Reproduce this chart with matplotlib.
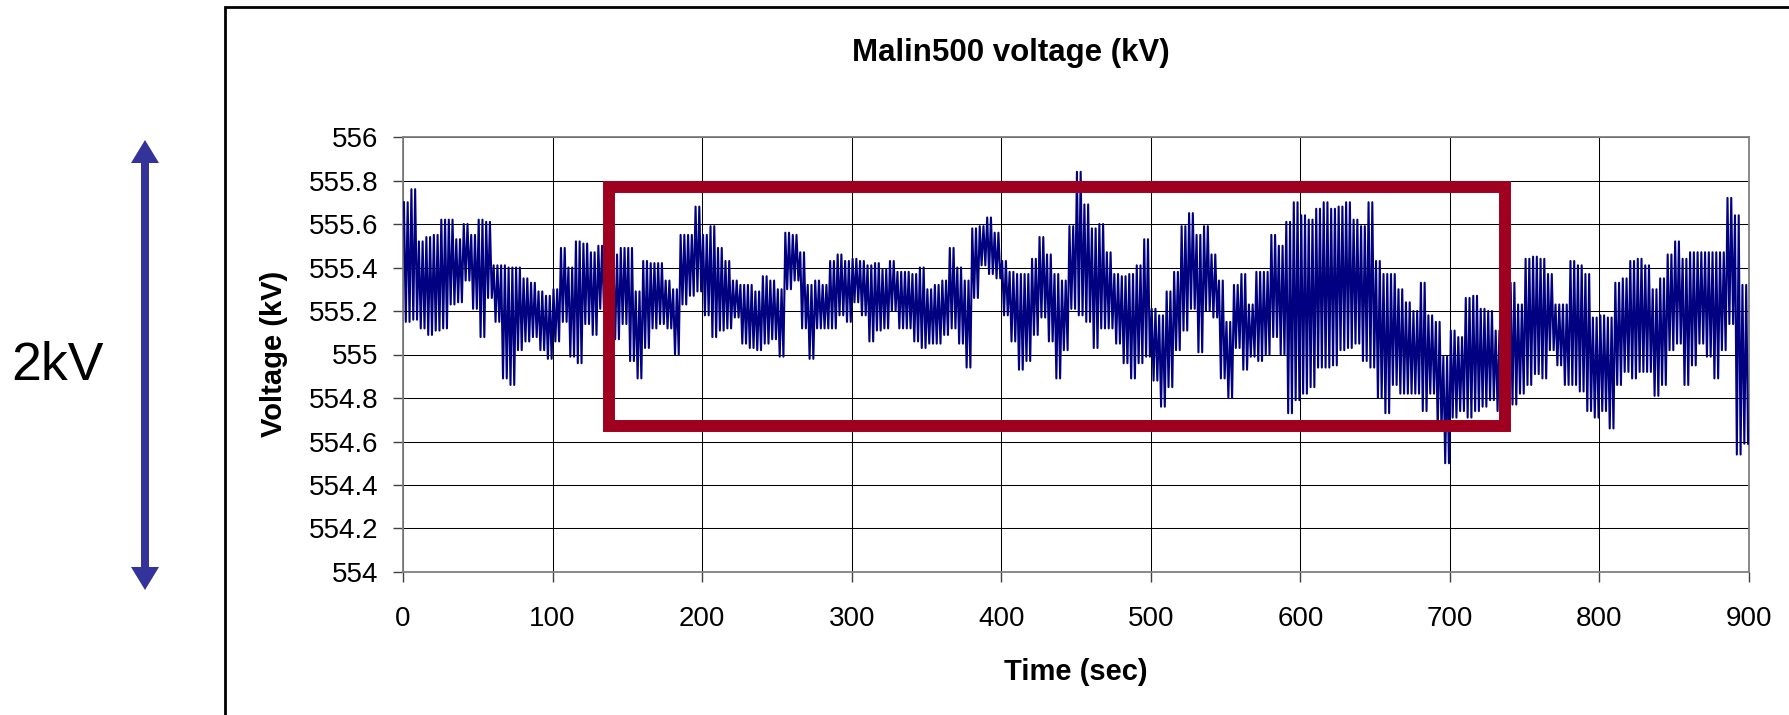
import numpy as np
import matplotlib
matplotlib.use("Agg")
import matplotlib.pyplot as plt
from matplotlib.patches import Rectangle, FancyArrow
from matplotlib.lines import Line2D

plt.rcParams['font.family'] = ['Liberation Sans', 'DejaVu Sans']

# ---------------- data ----------------
# 5-second bins starting at these times (sec)
bin_start = np.arange(0, 900, 5)

# upper envelope of the voltage trace in each bin (kV)
v_high = [
    555.70, 555.76, 555.52, 555.54, 555.55, 555.62, 555.62, 555.53, 555.60, 555.55,
    555.62, 555.61, 555.41, 555.41, 555.40, 555.40, 555.35, 555.33, 555.29, 555.27,
    555.30, 555.49, 555.40, 555.52, 555.51, 555.47, 555.50, 555.46, 555.46, 555.49,
    555.49, 555.29, 555.43, 555.42, 555.42, 555.34, 555.30, 555.55, 555.55, 555.68,
    555.55, 555.59, 555.49, 555.43, 555.34, 555.32, 555.32, 555.29, 555.36, 555.34,
    555.30, 555.56, 555.55, 555.47, 555.32, 555.34, 555.32, 555.43, 555.46, 555.43,
    555.44, 555.43, 555.41, 555.42, 555.39, 555.43, 555.38, 555.38, 555.37, 555.40,
    555.30, 555.32, 555.34, 555.49, 555.40, 555.34, 555.58, 555.59, 555.63, 555.56,
    555.43, 555.38, 555.37, 555.37, 555.44, 555.54, 555.46, 555.37, 555.34, 555.59,
    555.84, 555.69, 555.58, 555.60, 555.47, 555.37, 555.36, 555.37, 555.41, 555.53,
    555.21, 555.18, 555.29, 555.38, 555.59, 555.65, 555.55, 555.59, 555.46, 555.34,
    555.15, 555.32, 555.37, 555.23, 555.38, 555.38, 555.55, 555.50, 555.61, 555.70,
    555.64, 555.62, 555.67, 555.70, 555.67, 555.68, 555.70, 555.62, 555.59, 555.70,
    555.43, 555.37, 555.37, 555.30, 555.24, 555.20, 555.33, 555.18, 555.15, 554.99,
    555.11, 555.08, 555.26, 555.27, 555.21, 555.20, 555.11, 555.32, 555.33, 555.23,
    555.44, 555.45, 555.44, 555.37, 555.23, 555.23, 555.43, 555.41, 555.37, 555.17,
    555.18, 555.17, 555.33, 555.35, 555.43, 555.44, 555.41, 555.30, 555.35, 555.46,
    555.52, 555.44, 555.47, 555.47, 555.47, 555.47, 555.47, 555.72, 555.64, 555.32,
]

# lower envelope of the voltage trace in each bin (kV)
v_low = [
    555.15, 555.16, 555.12, 555.09, 555.11, 555.12, 555.23, 555.24, 555.34, 555.21,
    555.08, 555.26, 555.15, 554.89, 554.86, 555.02, 555.06, 555.08, 555.02, 554.98,
    555.06, 555.15, 554.99, 554.96, 555.14, 555.09, 555.21, 555.20, 555.07, 555.14,
    554.97, 554.89, 555.03, 555.12, 555.14, 555.12, 555.00, 555.23, 555.27, 555.29,
    555.18, 555.08, 555.11, 555.12, 555.17, 555.05, 555.03, 555.02, 555.05, 555.07,
    554.99, 555.30, 555.34, 555.12, 554.98, 555.12, 555.12, 555.12, 555.18, 555.15,
    555.24, 555.18, 555.06, 555.11, 555.12, 555.20, 555.12, 555.12, 555.06, 555.03,
    555.05, 555.05, 555.09, 555.12, 555.05, 554.94, 555.26, 555.41, 555.37, 555.35,
    555.18, 555.06, 554.93, 554.97, 555.09, 555.17, 555.06, 554.89, 555.02, 555.21,
    555.18, 555.15, 555.03, 555.12, 555.12, 555.05, 554.96, 554.89, 554.96, 554.99,
    554.88, 554.76, 554.85, 555.02, 555.11, 555.21, 555.01, 555.20, 555.17, 554.89,
    554.80, 555.03, 554.93, 554.99, 554.97, 555.00, 555.08, 555.00, 554.73, 554.79,
    554.82, 554.85, 554.94, 554.94, 554.95, 555.02, 555.03, 555.05, 554.97, 554.94,
    554.80, 554.73, 554.86, 554.82, 554.82, 554.82, 554.74, 554.82, 554.65, 554.50,
    554.71, 554.74, 554.71, 554.74, 554.76, 554.79, 554.74, 554.79, 554.77, 554.82,
    554.86, 554.91, 554.89, 555.02, 554.95, 554.86, 554.86, 554.83, 554.74, 554.71,
    554.74, 554.66, 554.86, 554.92, 554.89, 554.92, 554.92, 554.81, 554.86, 555.02,
    555.05, 554.86, 554.95, 555.05, 554.99, 554.89, 555.02, 555.14, 554.54, 554.59,
]

x_ticks = [0, 100, 200, 300, 400, 500, 600, 700, 800, 900]
x_tick_labels = ['0', '100', '200', '300', '400', '500', '600', '700', '800', '900']
y_ticks = [554.0, 554.2, 554.4, 554.6, 554.8, 555.0, 555.2, 555.4, 555.6, 555.8, 556.0]
y_tick_labels = ['554', '554.2', '554.4', '554.6', '554.8', '555',
                 '555.2', '555.4', '555.6', '555.8', '556']

# highlighted window (red box) in data units
box_t0, box_t1 = 137.7, 736.8
box_v0, box_v1 = 554.67, 555.77

# ---------------- figure ----------------
W, H = 1789, 715
fig = plt.figure(figsize=(W / 100, H / 100), dpi=100)
fig.patch.set_facecolor('white')

ax = fig.add_axes([403 / W, 1 - 572 / H, 1346 / W, 435 / H])

# dense trace: within each 5 s bin the fast signal swings repeatedly
# between the bin's high and low readings
bs = np.asarray(bin_start, dtype=float)
hi = np.asarray(v_high)
lo = np.asarray(v_low)
sub = np.array([0.625, 1.875, 3.125, 4.375])
xs = (bs[:, None] + sub[None, :]).ravel()
ys = np.column_stack([hi, lo, hi, lo]).ravel()
ax.plot(xs, ys, color='#000080', lw=1.5, zorder=3)

ax.set_xlim(0, 900)
ax.set_ylim(554, 556)
ax.set_xticks(x_ticks)
ax.set_xticklabels(x_tick_labels)
ax.set_yticks(y_ticks)
ax.set_yticklabels(y_tick_labels)
ax.tick_params(axis='both', direction='out', length=7.2, width=1.0,
               color='#404040', labelsize=20, labelcolor='black')
ax.tick_params(axis='y', pad=10.5)
ax.tick_params(axis='x', pad=17)

ax.grid(True, color='black', lw=0.75)
ax.set_axisbelow(True)
for s in ax.spines.values():
    s.set_color('#808080')
    s.set_linewidth(1.3)

# red highlight rectangle
ax.add_patch(Rectangle((box_t0, box_v0), box_t1 - box_t0, box_v1 - box_v0,
                       fill=False, edgecolor='#A0001F', lw=8.6,
                       joinstyle='miter', zorder=6, clip_on=False))

# texts
fig.text(1011 / W, 1 - 61 / H, 'Malin500 voltage (kV)', ha='center',
         va='baseline', fontsize=22.5, fontweight='bold')
fig.text(1076 / W, 1 - 680 / H, 'Time (sec)', ha='center', va='baseline',
         fontsize=21, fontweight='bold')
fig.text(274 / W, 1 - 354 / H, 'Voltage (kV)', ha='center', va='center',
         rotation=90, fontsize=21, fontweight='bold')
fig.text(57 / W, 1 - 380 / H, '2kV', ha='center', va='baseline', fontsize=38.5)

# chart frame (left and top edges visible)
fig.add_artist(Line2D([225 / W, 225 / W, 1.0], [0.0, 1 - 7 / H, 1 - 7 / H],
                      transform=fig.transFigure, color='black', lw=2.0,
                      solid_joinstyle='miter'))

# double-headed scale arrow (inches)
arrow_kw = dict(width=0.08, head_width=0.28, head_length=0.23,
                length_includes_head=True, color='#333399', lw=0,
                transform=fig.dpi_scale_trans)
fig.add_artist(FancyArrow(1.45, 3.50, 0, 2.25, **arrow_kw))
fig.add_artist(FancyArrow(1.45, 3.50, 0, -2.25, **arrow_kw))

fig.savefig('out.png', dpi=100, facecolor='white')
